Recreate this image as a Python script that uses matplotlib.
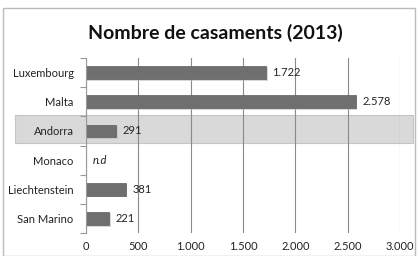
import matplotlib.pyplot as plt
from matplotlib.patches import Rectangle

countries = ["Luxembourg", "Malta", "Andorra", "Monaco", "Liechtenstein", "San Marino"]
marriages = [1722, 2578, 291, None, 381, 221]
labels = ["1.722", "2.578", "291", "n.d", "381", "221"]
xticks = [0, 500, 1000, 1500, 2000, 2500, 3000]
xtick_labels = ["0", "500", "1.000", "1.500", "2.000", "2.500", "3.000"]

plt.rcParams['font.family'] = ['Lato', 'DejaVu Sans']

fig = plt.figure(figsize=(4.17, 2.56), dpi=100)
fig.patch.set_facecolor("white")
# outer chart frame
fig.add_artist(Rectangle((3 / 417, 0), 412 / 417, 248 / 256, transform=fig.transFigure,
                         fill=False, edgecolor="#bbbbbb", linewidth=1.0))

ax = fig.add_axes([86 / 417, 23 / 256, 314 / 417, 175 / 256])
ax.patch.set_visible(False)

ypos = list(range(len(countries)))
vals = [v if v is not None else 0 for v in marriages]

# highlighted Andorra band
band = Rectangle((-71 / 314, 1.45), 398 / 314, 0.95,
                 transform=ax.get_yaxis_transform(), clip_on=False,
                 facecolor="#d9d9d9", edgecolor="#c4c4c4", linewidth=0.8, zorder=0.2)
ax.add_patch(band)

# soft shadow + bars
ax.barh([y + 0.05 for y in ypos], [v + 15 if v else 0 for v in vals], height=0.46,
        color="#bdbdbd", alpha=0.6, zorder=1.5)
ax.barh(ypos, vals, height=0.44, color="#6f6f6f", edgecolor="#5e5e5e", linewidth=0.5, zorder=2)

for y, v, lab in zip(ypos, vals, labels):
    if lab == "n.d":
        ax.text(60, y, lab, va="center", ha="left", fontsize=8, style="italic", color="#222222")
    else:
        ax.text(v + 60, y, lab, va="center", ha="left", fontsize=8, color="#222222")

ax.set_xlim(0, 3000)
ax.set_ylim(len(countries) - 0.5, -0.5)
ax.set_xticks(xticks)
ax.set_xticklabels(xtick_labels, fontsize=8, color="#222222")
ax.set_yticks(ypos)
ax.set_yticklabels(countries, fontsize=8, color="#222222")
ax.tick_params(axis="y", length=0, pad=9)
ax.tick_params(axis="x", length=0, pad=6)
ax.set_yticks([i - 0.5 for i in range(len(countries) + 1)], minor=True)
ax.tick_params(axis="y", which="minor", length=4, color="#999999", width=0.8)

ax.grid(axis="x", color="#8a8a8a", linewidth=0.8, zorder=0.5)
ax.set_axisbelow(True)
for s in ["top", "right", "bottom"]:
    ax.spines[s].set_visible(False)
ax.spines["left"].set_color("#999999")
ax.spines["left"].set_linewidth(0.8)

fig.text(215 / 417, 1 - 33 / 256, "Nombre de casaments (2013)", ha="center", va="center",
         fontsize=14, fontweight="bold", color="#111111")

fig.savefig("out.png", dpi=100)
